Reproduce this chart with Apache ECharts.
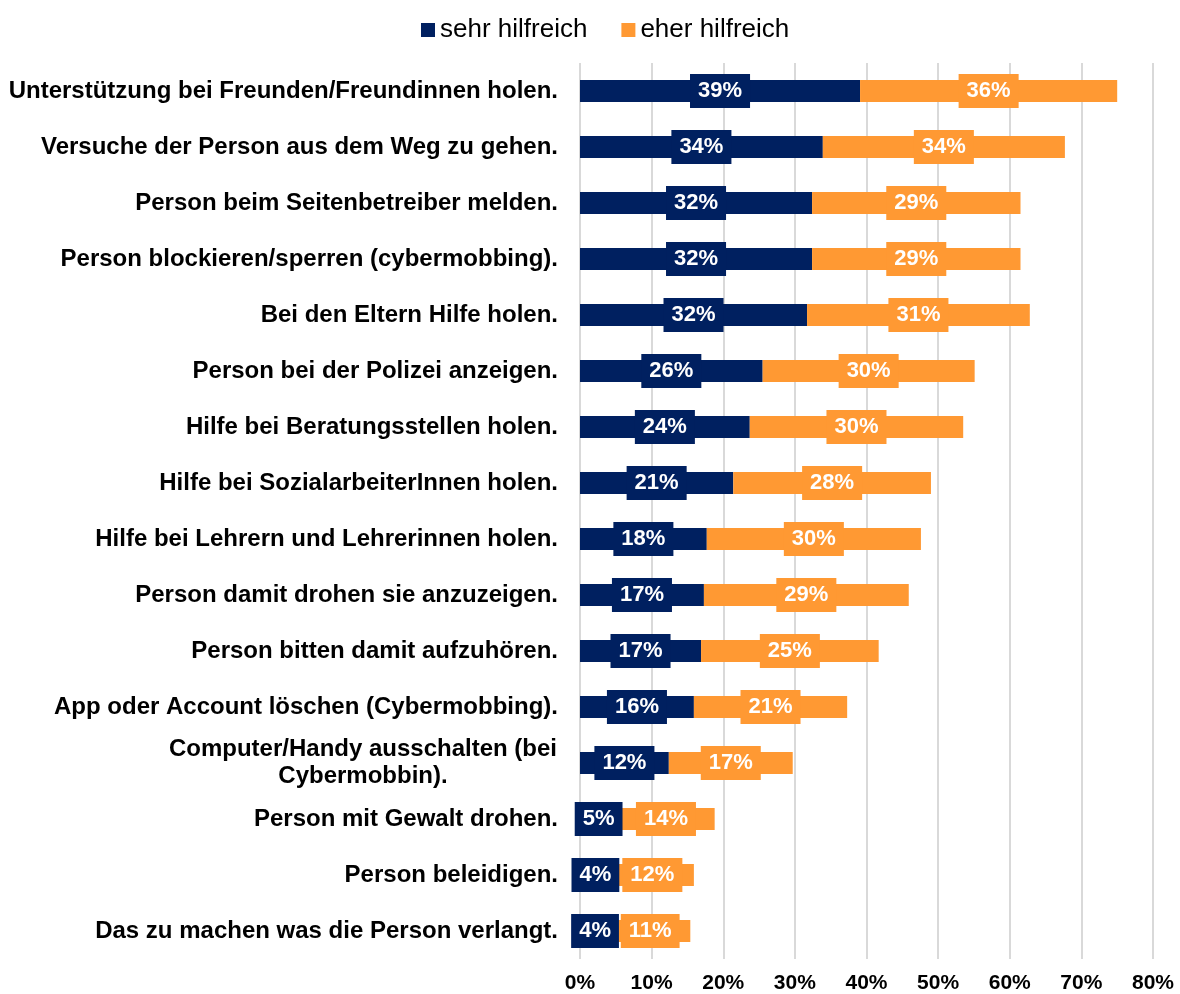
<!DOCTYPE html>
<html>
<head>
<meta charset="utf-8">
<title>Hilfreiche Strategien</title>
<script src="https://cdn.jsdelivr.net/npm/echarts@6/dist/echarts.min.js"></script>
<style>
  html, body { margin: 0; padding: 0; background: #fff; }
  #chart { width: 1180px; height: 994px; }
</style>
</head>
<body>
<div id="chart"></div>
<script>
  // Kategorien von oben nach unten
  var categories = [
    'Unterstützung bei Freunden/Freundinnen holen.',
    'Versuche der Person aus dem Weg zu gehen.',
    'Person beim Seitenbetreiber melden.',
    'Person blockieren/sperren (cybermobbing).',
    'Bei den Eltern Hilfe holen.',
    'Person bei der Polizei anzeigen.',
    'Hilfe bei Beratungsstellen holen.',
    'Hilfe bei SozialarbeiterInnen holen.',
    'Hilfe bei Lehrern und Lehrerinnen holen.',
    'Person damit drohen sie anzuzeigen.',
    'Person bitten damit aufzuhören.',
    'App oder Account löschen (Cybermobbing).',
    'Computer/Handy ausschalten (bei\nCybermobbin).',
    'Person mit Gewalt drohen.',
    'Person beleidigen.',
    'Das zu machen was die Person verlangt.'
  ];
  var sehrHilfreich = [39.1, 33.9, 32.4, 32.4, 31.7, 25.5, 23.7, 21.4, 17.7, 17.3, 16.9, 15.9, 12.4, 5.2, 4.3, 4.2];
  var eherHilfreich = [35.9, 33.8, 29.1, 29.1, 31.1, 29.6, 29.8, 27.6, 29.9, 28.6, 24.8, 21.4, 17.3, 13.6, 11.6, 11.2];
  var seriesNames = ['sehr hilfreich', 'eher hilfreich'];

  var font = 'Liberation Sans, Arial, sans-serif';
  var colors = ['#002060', '#FF9933'];

  function barLabel(color) {
    return {
      show: true,
      position: 'inside',
      formatter: function (p) { return Math.round(p.value) + '%'; },
      color: '#fff',
      fontFamily: font,
      fontWeight: 'bold',
      fontSize: 22,
      lineHeight: 22,
      backgroundColor: color,
      padding: [6, 8]
    };
  }

  var myChart = echarts.init(document.getElementById('chart'));
  myChart.setOption({
    animation: false,
    backgroundColor: '#ffffff',
    color: colors,
    legend: {
      data: seriesNames,
      left: 416,
      top: 12,
      itemWidth: 14,
      itemHeight: 14,
      itemGap: 34,
      icon: 'rect',
      textStyle: { fontFamily: font, fontSize: 26, color: '#000' }
    },
    grid: {
      left: 580,
      right: 27,
      top: 63,
      bottom: 33,
      containLabel: false
    },
    xAxis: {
      type: 'value',
      min: 0,
      max: 80,
      interval: 10,
      axisLine: { show: false },
      axisTick: { show: false },
      splitLine: { lineStyle: { color: '#d9d9d9', width: 2 } },
      axisLabel: {
        formatter: '{value}%',
        margin: 14,
        fontFamily: font,
        fontWeight: 'bold',
        fontSize: 21,
        color: '#000'
      }
    },
    yAxis: {
      type: 'category',
      data: categories,
      inverse: true,
      axisLine: { show: false },
      axisTick: { show: false },
      axisLabel: {
        margin: 22,
        fontFamily: font,
        fontWeight: 'bold',
        fontSize: 24,
        color: '#000',
        formatter: function (v) {
          if (v.indexOf('\n') < 0) return v;
          return v.split('\n').map(function (s) { return '{c|' + s + '}'; }).join('\n');
        },
        rich: {
          c: {
            width: 390,
            align: 'center',
            lineHeight: 27,
            fontFamily: font,
            fontWeight: 'bold',
            fontSize: 24,
            color: '#000'
          }
        }
      }
    },
    series: [
      {
        name: seriesNames[0],
        type: 'bar',
        stack: 'gesamt',
        barWidth: 22,
        data: sehrHilfreich,
        label: barLabel(colors[0])
      },
      {
        name: seriesNames[1],
        type: 'bar',
        stack: 'gesamt',
        barWidth: 22,
        data: eherHilfreich,
        label: barLabel(colors[1])
      }
    ]
  });
</script>
</body>
</html>
